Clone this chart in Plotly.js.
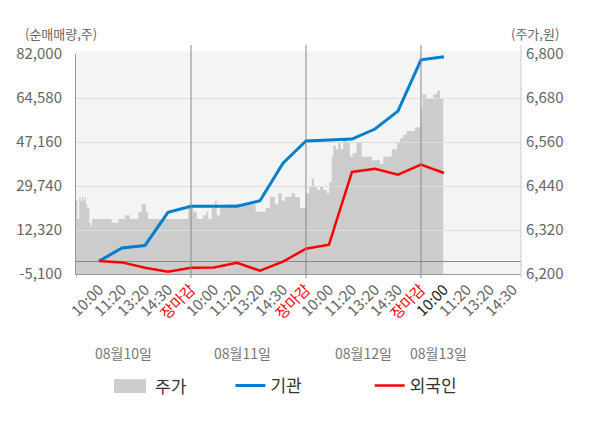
<!DOCTYPE html>
<html>
<head>
<meta charset="utf-8">
<script src="https://cdn.plot.ly/plotly-3.0.1.min.js"></script>
<style>
  html, body { margin: 0; padding: 0; background: #fff; }
  #chart { width: 600px; height: 428px; }
</style>
</head>
<body>
<div id="chart"></div>
<script>
// x positions are time slots: 1..5 = 10:00 .. 장마감 of day 1, 6..10 day 2, and so on
var timeLabels = ['10:00', '11:20', '13:20', '14:30', '장마감'];
var dayLabels = ['08월10일', '08월11일', '08월12일', '08월13일'];

var flowSlots = [1, 2, 3, 4, 5, 6, 7, 8, 9, 10, 11, 12, 13, 14, 15, 16];
var institution = [0, 5200, 6200, 19300, 21700, 21700, 21700, 23900, 38800, 47600,
  47800, 48300, 52300, 59400, 79700, 80900];
var foreigner = [0, -500, -2600, -4200, -2600, -2500, -700, -3800, -200, 4900,
  6500, 35300, 36600, 34200, 38200, 34900];

// intraday price (won)
var priceSlots = [0, 0.06, 0.14, 0.20, 0.26, 0.32, 0.38, 0.43, 0.49, 0.58, 0.64, 0.70,
  1.55, 1.84, 2.13, 2.35, 2.71, 2.86, 3.04, 3.14, 4.88,
  5.10, 5.25, 5.52, 5.68, 5.75, 5.90, 6.04, 6.12, 6.26, 6.55, 7.81, 8.25, 8.43, 8.65,
  8.80, 8.94, 9.09, 9.38, 9.52, 9.74,
  10.00, 10.14, 10.25, 10.35, 10.47, 10.61, 10.75, 10.90, 11.01, 11.12, 11.19, 11.30,
  11.40, 11.51, 11.62, 11.77, 11.91, 12.03, 12.20, 12.42, 12.86, 13.22, 13.36, 13.73,
  13.97, 14.09, 14.23, 14.38, 14.74, 14.99,
  15.07, 15.22, 15.54, 15.71, 15.83, 15.97];
var price = [6400, 6350, 6410, 6400, 6410, 6400, 6410, 6390, 6380, 6340, 6330, 6350,
  6340, 6350, 6360, 6350, 6370, 6390, 6370, 6350, 6380,
  6370, 6350, 6360, 6370, 6350, 6380, 6400, 6360, 6380, 6390, 6370, 6380, 6410, 6390,
  6420, 6400, 6410, 6420, 6410, 6380,
  6420, 6440, 6460, 6440, 6430, 6440, 6430, 6420, 6450, 6520, 6550, 6540,
  6560, 6540, 6570, 6560, 6520, 6530, 6560, 6520, 6510, 6500, 6520, 6540,
  6560, 6570, 6580, 6590, 6600, 6650,
  6690, 6680, 6690, 6700, 6680, 6680];

var leftTicks = [-5100, 12320, 29740, 47160, 64580, 82000];
var rightTicks = [6200, 6320, 6440, 6560, 6680, 6800];

var FONT = 'Noto Sans CJK KR, Noto Sans, sans-serif';
var XRANGE = [0, 19.35];

function fmt(v) { return v.toLocaleString('en-US'); }

var tickVals = [], tickText = [];
for (var d = 0; d < dayLabels.length; d++) {
  for (var k = 0; k < timeLabels.length; k++) {
    var slot = d * 5 + k + 1;
    if (slot > 19) break;
    var t = timeLabels[k];
    if (k === 4) t = '<span style="color:#ff0000">' + t + '</span>';
    else if (slot === 16) t = '<span style="color:#222222">' + t + '</span>';
    tickVals.push(slot);
    tickText.push(t);
  }
}

// price sits on its own subplot underneath, so the flow grid and lines draw over it
var traces = [
  {
    x: priceSlots, y: price, xaxis: 'x', yaxis: 'y', name: '주가', type: 'scatter', mode: 'lines',
    line: { width: 0, shape: 'hv', color: '#cccccc' },
    fill: 'tozeroy', fillcolor: '#cccccc', showlegend: false, hoverinfo: 'skip'
  },
  {
    x: flowSlots, y: institution, xaxis: 'x2', yaxis: 'y2', name: '기관', type: 'scatter',
    mode: 'lines', line: { width: 3, color: '#0080cc' }, legend: 'legend'
  },
  {
    x: flowSlots, y: foreigner, xaxis: 'x2', yaxis: 'y2', name: '외국인', type: 'scatter',
    mode: 'lines', line: { width: 2.5, color: '#ff0000' }, legend: 'legend2'
  }
];

var shapes = [
  // plot background (kept as a shape so the upper subplot does not hide the price area)
  { type: 'rect', xref: 'paper', yref: 'paper', x0: 0, x1: 1, y0: 0, y1: 1.012,
    fillcolor: '#f4f4f4', line: { width: 0 }, layer: 'below' }
];
[5, 10, 15].forEach(function (s) {
  shapes.push({ type: 'line', xref: 'x2', yref: 'paper', x0: s, x1: s, y0: -0.018, y1: 1.041,
    line: { color: '#888888', width: 1 }, layer: 'above' });
});
shapes.push({ type: 'line', xref: 'x2', yref: 'paper', x0: 0, x1: 0, y0: -0.018, y1: 0,
  line: { color: '#999999', width: 1 } });
shapes.push({ type: 'line', xref: 'paper', yref: 'paper', x0: 1, x1: 1, y0: -0.018, y1: 1.041,
  line: { color: '#cccccc', width: 1 } });
// swatch for the price legend entry
shapes.push({ type: 'rect', xref: 'paper', yref: 'paper', x0: 0.0854, x1: 0.1573, y0: -0.478, y1: -0.541,
  fillcolor: '#cccccc', line: { width: 0 } });

var annotations = [
  { text: '(순매매량,주)', xref: 'paper', yref: 'paper', x: -0.12, y: 1.095,
    xanchor: 'left', yanchor: 'middle', showarrow: false, font: { size: 13, color: '#666666' } },
  { text: '(주가,원)', xref: 'paper', yref: 'paper', x: 1.09, y: 1.095,
    xanchor: 'right', yanchor: 'middle', showarrow: false, font: { size: 13, color: '#666666' } },
  { text: '주가', xref: 'paper', yref: 'paper', x: 0.173, y: -0.509,
    xanchor: 'left', yanchor: 'middle', showarrow: false, font: { size: 17, color: '#333333' } }
];
var dayPos = [0.106, 0.374, 0.646, 0.814];
dayLabels.forEach(function (lab, i) {
  annotations.push({ text: lab, xref: 'paper', yref: 'paper', x: dayPos[i], y: -0.359,
    xanchor: 'center', yanchor: 'middle', showarrow: false, font: { size: 14, color: '#777777' } });
});

function legendAt(x) {
  return { orientation: 'h', x: x, y: -0.509, xanchor: 'left', yanchor: 'middle',
    bgcolor: 'rgba(0,0,0,0)', font: { size: 17, color: '#333333', family: FONT } };
}

var layout = {
  width: 600, height: 428,
  margin: { l: 76, r: 79, t: 54, b: 154 },
  paper_bgcolor: '#ffffff', plot_bgcolor: 'rgba(0,0,0,0)',
  font: { family: FONT, color: '#666666', size: 15 },
  showlegend: true,
  legend: legendAt(0.347),
  legend2: legendAt(0.66),
  xaxis: { range: XRANGE, anchor: 'y', visible: false, fixedrange: true },
  yaxis: {
    range: [6200, 6800], anchor: 'x', side: 'right', tickmode: 'array', tickvals: rightTicks,
    ticktext: rightTicks.map(fmt), showgrid: false, zeroline: false, showline: false, ticks: '',
    ticklabelstandoff: 4, tickfont: { size: 15, color: '#666666' }, fixedrange: true
  },
  xaxis2: {
    range: XRANGE, anchor: 'y2', tickmode: 'array', tickvals: tickVals, ticktext: tickText,
    tickangle: -45, showgrid: false, zeroline: false, showline: true,
    linecolor: '#999999', ticks: '', tickfont: { size: 15, color: '#666666' }, fixedrange: true
  },
  yaxis2: {
    range: [-5100, 82000], anchor: 'x2', side: 'left', tickmode: 'array', tickvals: leftTicks,
    ticktext: leftTicks.map(fmt), gridcolor: '#dddddd', zeroline: true, zerolinecolor: '#888888',
    zerolinewidth: 1, showline: true, linecolor: '#999999', ticks: '', ticklabelstandoff: 10,
    tickfont: { size: 15, color: '#666666' }, fixedrange: true
  },
  shapes: shapes,
  annotations: annotations
};

Plotly.newPlot('chart', traces, layout, { displayModeBar: false, staticPlot: true });
</script>
</body>
</html>
